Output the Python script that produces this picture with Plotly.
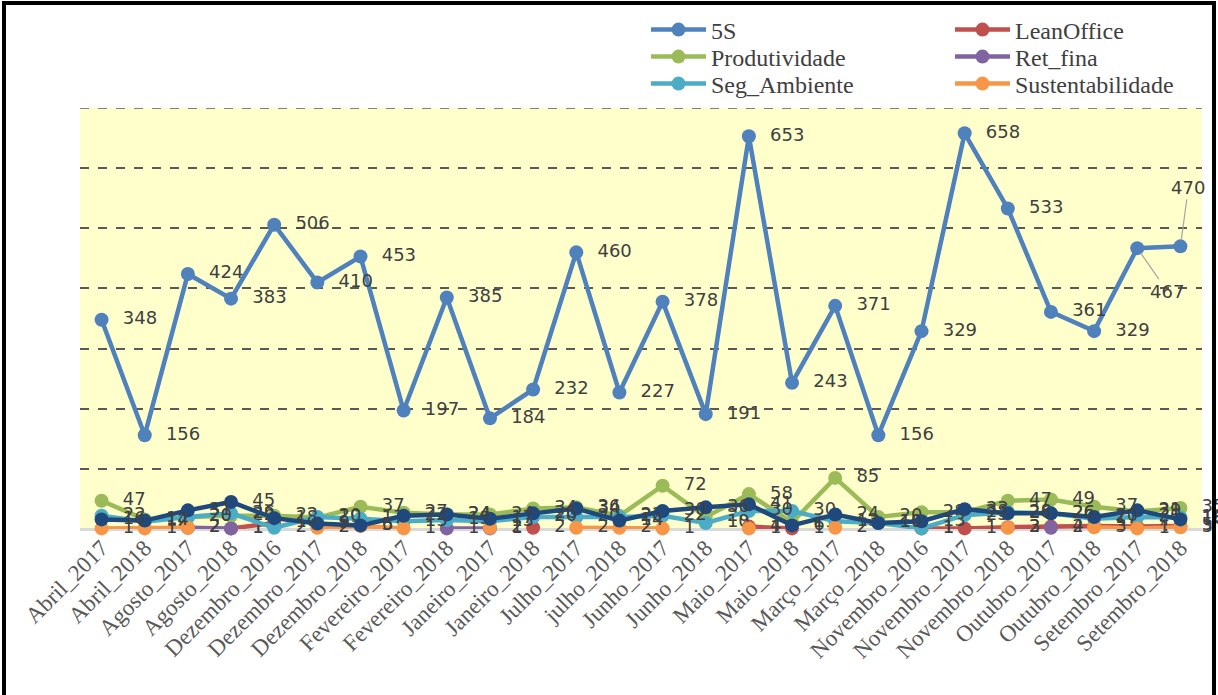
import plotly.graph_objects as go

categories = ["Abril_2017", "Abril_2018", "Agosto_2017", "Agosto_2018", "Dezembro_2016",
              "Dezembro_2017", "Dezembro_2018", "Fevereiro_2017", "Fevereiro_2018",
              "Janeiro_2017", "Janeiro_2018", "Julho_2017", "julho_2018", "Junho_2017",
              "Junho_2018", "Maio_2017", "Maio_2018", "Março_2017", "Março_2018",
              "Novembro_2016", "Novembro_2017", "Novembro_2018", "Outubro_2017",
              "Outubro_2018", "Setembro_2017", "Setembro_2018"]

N = None
s_5s = [348, 156, 424, 383, 506, 410, 453, 197, 385, 184, 232, 460, 227, 378, 191,
        653, 243, 371, 156, 329, 658, 533, 361, 329, 467, 470]
s_lean = [N, N, N, 1, 10, N, N, N, N, N, 2, N, N, N, N, 4, 1, N, N, 1, 1, 3, 4, 5, 4, 5]
s_prod = [47, 16, 20, 22, 22, 19, 37, 27, 24, 24, 34, 36, 22, 72, 20, 58, 11, 85, 20,
          28, 28, 47, 49, 37, 29, 35]
s_ret = [N, N, 2, 1, N, N, N, N, 1, 1, N, N, N, N, N, N, N, N, N, N, N, N, 2, N, N, N]
s_seg = [22, 12, 20, 26, 2, 20, 17, 13, 15, 13, 20, 20, 20, 22, 10, 30, 30, 13, 10, 1,
         23, 28, 26, 17, 20, 19]
s_sust = [1, 1, 2, N, N, 2, 5, 1, N, 2, N, 2, 2, 1, N, 1, N, 2, N, N, N, 2, N, 3, 1, 3]
s_outros = [16, 14, 31, 45, 18, 9, 6, 22, 24, 17, 26, 34, 14, 30, 36, 41, 6, 24, 10, 13,
            33, 26, 26, 20, 31, 16]

series = [
    ("5S", s_5s, "#4F81BD", "legend"),
    ("LeanOffice", s_lean, "#C0504D", "legend"),
    ("Produtividade", s_prod, "#9BBB59", "legend2"),
    ("Ret_fina", s_ret, "#8064A2", "legend2"),
    ("Seg_Ambiente", s_seg, "#4BACC6", "legend3"),
    ("Sustentabilidade", s_sust, "#F79646", "legend3"),
    ("Outros", s_outros, "#1F497D", None),
]

labfont = dict(family="DejaVu Sans", size=18, color="#404040")

fig = go.Figure()
for name, vals, color, leg in series:
    texts = ["" if v is None else "  " + str(v) for v in vals]
    if name == "5S":
        texts[-2:] = ["", ""]
    kw = dict(legend=leg) if leg else dict(showlegend=False)
    fig.add_trace(go.Scatter(
        x=categories, y=vals, name=name, mode="lines+markers+text",
        line=dict(color=color, width=4.5),
        marker=dict(color=color, size=14),
        text=texts, textposition="middle right", textfont=labfont,
        connectgaps=False, cliponaxis=False, **kw))

# displaced labels with leader lines for the last two 5S points
for idx, ax, ay in [(24, 30, 43), (25, 8, -59)]:
    fig.add_annotation(x=categories[idx], y=s_5s[idx], text=str(s_5s[idx]),
                       showarrow=True, arrowhead=0, arrowwidth=1.2, arrowcolor="#a6a6a6",
                       ax=ax, ay=ay, standoff=7, font=labfont)

ml, mr, mt, mb = 80, 16, 108, 166
W, H = 1218, 695
pw, ph = W - ml - mr, H - mt - mb
y_max = 700

# top gridline (plotly skips the one on the plot edge)
fig.add_shape(type="line", xref="paper", yref="y", x0=0, x1=1, y0=y_max, y1=y_max,
              line=dict(color="#595959", width=1.5, dash="dash"), layer="below")

fig.add_shape(type="rect", xref="paper", yref="paper",
              x0=(4 - ml) / pw, x1=(1214 - ml) / pw,
              y0=(H - mb - 700) / ph, y1=(H - mb - 3) / ph,
              line=dict(color="black", width=4), fillcolor="rgba(0,0,0,0)", layer="above")

legfont = dict(family="Liberation Serif", size=24, color="#404040")


def leg(row_px):
    return dict(x=(646 - ml) / pw, y=(H - mb - row_px) / ph, xanchor="left",
                yanchor="middle", orientation="h", font=legfont, itemwidth=55,
                entrywidth=234, entrywidthmode="pixels", bgcolor="rgba(0,0,0,0)")


fig.update_layout(
    width=W, height=H,
    margin=dict(l=ml, r=mr, t=mt, b=mb, autoexpand=False),
    paper_bgcolor="white", plot_bgcolor="#FFFFCC",
    legend=leg(30), legend2=leg(57), legend3=leg(84),
    xaxis=dict(range=[-0.5, len(categories) - 0.5], tickangle=-45, showgrid=False,
               tickfont=dict(family="Liberation Serif", size=23, color="#595959"),
               showline=False, ticks="", automargin=False),
    yaxis=dict(range=[0, y_max], dtick=100, showticklabels=False, showgrid=True,
               gridcolor="#595959", griddash="dash", gridwidth=1.5, automargin=False,
               zeroline=True, zerolinecolor="#D9D9D9", zerolinewidth=2.5, showline=False),
)

fig.write_html("out.html")
